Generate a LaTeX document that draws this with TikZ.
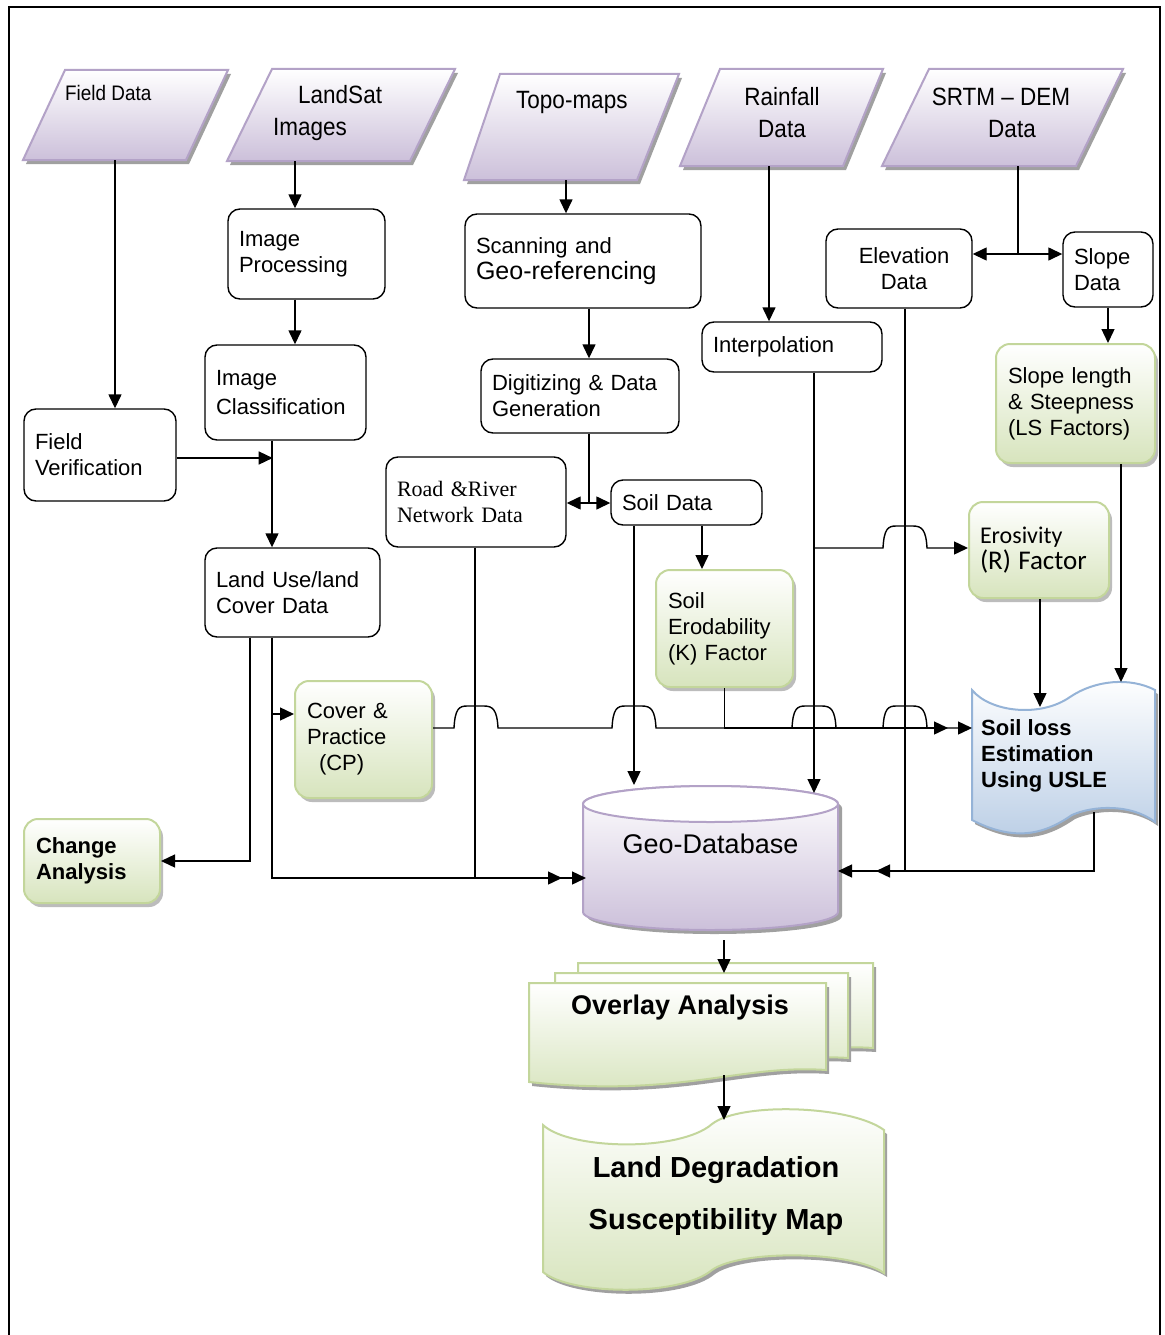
\documentclass[tikz,border=0pt]{standalone}
\usepackage{fontspec}
\setmainfont{Liberation Sans}
\newfontfamily\narrowsans[FakeStretch=0.9]{Liberation Sans}
\newfontfamily\timesfam{Liberation Serif}
\newfontfamily\calfam{Carlito}
\usetikzlibrary{arrows.meta,shadows}
\definecolor{pfill}{HTML}{CCC0DA}
\definecolor{pborder}{HTML}{B3A2C7}
\definecolor{gfill}{HTML}{D7E4BD}
\definecolor{gborder}{HTML}{C3D69B}
\definecolor{bfill}{HTML}{B9CDE5}
\definecolor{bborder}{HTML}{95B3D7}
\definecolor{shadowgray}{HTML}{A0A0A0}
\newcommand{\myfs}[2]{\fontsize{#1pt}{#2pt}\selectfont}
\newcommand{\mypara}[6]{%
  \fill[shadowgray,shift={(3,4)}] (#1,#3) -- (#2,#3) -- (#4,#6) -- (#5,#6) -- cycle;
  \path[pgramstyle] (#1,#3) -- (#2,#3) -- (#4,#6) -- (#5,#6) -- cycle;}
\tikzset{
  wbox/.style={draw, line width=1.4pt, rounded corners=12pt, fill=white, align=left,
    inner xsep=11pt, inner ysep=0pt, font=\myfs{22}{26}},
  gbox/.style={draw=gborder, line width=2pt, rounded corners=14pt, top color=white,
    bottom color=gfill, align=left, inner xsep=12pt, inner ysep=0pt, font=\myfs{22}{26},
    drop shadow={shadow xshift=3pt, shadow yshift=-4pt, fill=shadowgray, opacity=0.7}},
  pgramstyle/.style={draw=pborder, line width=2pt, top color=white, bottom color=pfill},
  paratext/.style={font=\narrowsans\myfs{25}{32}, inner sep=0pt, align=left},
  conn/.style={line width=1.4pt},
  arr/.style={conn, -{Triangle[length=14pt,width=13pt]}},
}
\begin{document}
\begin{tikzpicture}[x=1pt,y=-1pt]
\useasboundingbox (0,0) rectangle (1164,1335);
\fill[white] (0,0) rectangle (1164,1335);
\draw[line width=2pt] (9,1345) -- (9,7.5) -- (1160,7.5) -- (1160,1345);

% ---------- input parallelograms
\mypara{65}{228}{70}{186}{23}{160}
\mypara{272}{455}{69}{410}{227}{161}
\mypara{500}{679}{74}{637}{464}{180}
\mypara{720}{883}{69}{843}{680}{166}
\mypara{929}{1123}{69}{1076}{882}{166}
\node[paratext, anchor=west, font=\narrowsans\myfs{21}{25}] (fd) at (65,93) {Field Data};
\node[paratext, anchor=west] (lsat) at (273,113) {\hspace*{25pt}LandSat\\Images};
\node[paratext, anchor=west] (topo) at (516,102) {Topo-maps};
\node[paratext, align=center] (rain) at (782,113) {Rainfall\\Data};
\node[paratext, align=center] (srtm) at (1001,113) {SRTM – DEM\\\hspace*{22pt}Data};
\coordinate (fdB) at (115,160);
\coordinate (lsB) at (295,161);
\coordinate (tpB) at (566,180);
\coordinate (rnB) at (769,166);
\coordinate (srB) at (1018,166);

% ---------- white boxes
\node[wbox, text width=135pt, minimum height=90pt] (ip) at (306.5,254) {Image\\Processing};
\node[wbox, text width=139pt, minimum height=95pt] (ic) at (285.5,392.5) {Image\\[3pt]Classification};
\node[wbox, text width=130pt, minimum height=92pt] (fv) at (100,455) {Field\\Verification};
\node[wbox, text width=153pt, minimum height=89pt] (lu) at (292.5,592.5) {Land Use/land\\Cover Data};
\node[wbox, text width=214pt, minimum height=94pt] (sg) at (583,261) {Scanning and\\{\myfs{25}{28}Geo-referencing}};
\node[wbox, text width=176pt, minimum height=74pt] (dg) at (580,396) {Digitizing \& Data\\Generation};
\node[wbox, text width=158pt, minimum height=90pt, font=\timesfam\myfs{22}{26}] (rr) at (476,502) {Road \&River\\Network Data};
\node[wbox, text width=129pt, minimum height=45pt] (sd) at (686.5,502.5) {Soil Data};
\node[wbox, text width=158pt, minimum height=50pt] (itp) at (792,347) {Interpolation};
\node[wbox, text width=124pt, minimum height=79pt, align=center] (el) at (899,268.5) {\hspace*{10pt}Elevation\\\hspace*{10pt}Data};
\node[wbox, text width=68pt, minimum height=75pt] (sl) at (1108,269.5) {Slope\\Data};

% ---------- green boxes
\node[gbox, text width=135pt, minimum height=119pt] (ls) at (1075.5,403.5) {Slope length\\\& Steepness\\(LS Factors)};
\node[gbox, text width=118pt, minimum height=96pt, inner xsep=11pt] (er) at (1039,550) {\calfam\myfs{24}{31}Erosivity\\{\calfam\myfs{27}{31}(R) Factor}};
\node[gbox, text width=113pt, minimum height=117pt] (ke) at (724.5,628.5) {Soil\\Erodability\\(K) Factor};
\node[gbox, text width=113pt, minimum height=117pt] (cp) at (363.5,739.5) {Cover \&\\Practice\\\hspace*{12pt}(CP)};
\node[gbox, text width=112pt, minimum height=84pt, font=\bfseries\myfs{22}{26}] (ca) at (92,861) {Change\\Analysis};

% ---------- Soil loss document (blue)
\fill[shadowgray, shift={(3,4)}] (972,690) .. controls (990,712) and (1040,718) .. (1070,697) .. controls (1095,680) and (1130,677) .. (1155,690) -- (1155,822) .. controls (1130,803) and (1092,806) .. (1072,815) .. controls (1050,830) and (1020,845) .. (972,820) -- cycle;
\draw[bborder, line width=2pt, top color=white, bottom color=bfill] (972,690) .. controls (990,712) and (1040,718) .. (1070,697) .. controls (1095,680) and (1130,677) .. (1155,690) -- (1155,822) .. controls (1130,803) and (1092,806) .. (1072,815) .. controls (1050,830) and (1020,845) .. (972,820) -- cycle;
\node[anchor=west, align=left, inner sep=0pt, font=\bfseries\myfs{22}{26}] (usle) at (981,756) {Soil loss\\Estimation\\Using USLE};

% ---------- Geo-Database cylinder
\fill[shadowgray, shift={(4,4)}] (583,804) -- (583,912) arc[start angle=180, end angle=0, x radius=127.5, y radius=18] -- (838,804) arc[start angle=0, end angle=-180, x radius=127.5, y radius=18] -- cycle;
\draw[pborder, line width=2pt, top color=white, bottom color=pfill] (583,804) -- (583,912) arc[start angle=180, end angle=0, x radius=127.5, y radius=18] -- (838,804) arc[start angle=0, end angle=-180, x radius=127.5, y radius=18] -- cycle;
\draw[pborder, line width=2pt, fill=white] (710.5,804) ellipse[x radius=127.5, y radius=18];
\node[font=\myfs{27}{32}] (db) at (710.5,844) {Geo-Database};

% ---------- Overlay Analysis (multi-document)
\fill[shadowgray, shift={(3,4)}] (578,963) -- (873,963) -- (873,1048) .. controls (787,1042) and (727,1076) .. (578,1060) -- cycle;
\draw[gborder, line width=2pt, top color=white, bottom color=gfill] (578,963) -- (873,963) -- (873,1048) .. controls (787,1042) and (727,1076) .. (578,1060) -- cycle;
\fill[shadowgray, shift={(3,4)}] (555,973) -- (848,973) -- (848,1058) .. controls (762,1052) and (702,1086) .. (555,1070) -- cycle;
\draw[gborder, line width=2pt, top color=white, bottom color=gfill] (555,973) -- (848,973) -- (848,1058) .. controls (762,1052) and (702,1086) .. (555,1070) -- cycle;
\fill[shadowgray, shift={(3,4)}] (529,983) -- (826,983) -- (826,1070) .. controls (740,1064) and (680,1098) .. (529,1082) -- cycle;
\draw[gborder, line width=2pt, top color=white, bottom color=gfill] (529,983) -- (826,983) -- (826,1070) .. controls (740,1064) and (680,1098) .. (529,1082) -- cycle;
\node[font=\bfseries\myfs{27}{32}] (ov) at (680,1008) {Overlay Analysis};

% ---------- Land Degradation document
\fill[shadowgray, shift={(3,4)}] (543,1125) .. controls (570,1150) and (680,1152) .. (712,1124) .. controls (740,1102) and (850,1105) .. (884,1130) -- (884,1273) .. controls (850,1250) and (740,1250) .. (712,1270) .. controls (680,1297) and (570,1295) .. (543,1272) -- cycle;
\draw[gborder, line width=2pt, top color=white, bottom color=gfill] (543,1125) .. controls (570,1150) and (680,1152) .. (712,1124) .. controls (740,1102) and (850,1105) .. (884,1130) -- (884,1273) .. controls (850,1250) and (740,1250) .. (712,1270) .. controls (680,1297) and (570,1295) .. (543,1272) -- cycle;
\node[font=\bfseries\myfs{29}{52}, align=center] (ld) at (716,1196) {Land Degradation\\Susceptibility Map};

% ---------- connection points on drawn shapes
\coordinate (dbT1) at (814,793);
\coordinate (dbT2) at (634,785);
\coordinate (dbL1) at (586,878);
\coordinate (dbL2) at (562,878);
\coordinate (dbR1) at (838,871);
\coordinate (dbR2) at (876,871);
\coordinate (dbB) at (724,940);
\coordinate (ovT) at (724,973);
\coordinate (ovB) at (724,1075);
\coordinate (ldT) at (724,1120);
\coordinate (slT1) at (1040,707);
\coordinate (slT2) at (1121,682);
\coordinate (slL1) at (972,728);
\coordinate (slL2) at (948,728);
\coordinate (slB) at (1094,812);
\coordinate (dgj) at (589,503);
\coordinate (srj) at (1018,254);
\coordinate (ij) at (814,548);
\coordinate (elj) at (905,871);
\coordinate (luj) at (272,714);

% ---------- connectors
\draw[arr] (fdB) -- ([xshift=15pt]fv.north);
\draw[arr] (lsB) -- ([xshift=-11.5pt]ip.north);
\draw[arr] ([xshift=-11.5pt]ip.south) -- ([xshift=9.5pt]ic.north);
\draw[arr] ([xshift=-13.5pt]ic.south) -- ([xshift=-20.5pt]lu.north);
\draw[arr] ([yshift=-3pt]fv.east) -- +(96,0);
\draw[arr] (tpB) -- ([xshift=-17pt]sg.north);
\draw[arr] ([xshift=6pt]sg.south) -- ([xshift=9pt]dg.north);
\draw[conn] ([xshift=9pt]dg.south) -- (dgj);
\draw[arr] (dgj) -- (dgj -| rr.east);
\draw[arr] (dgj) -- (dgj -| sd.west);
\draw[arr] (rnB) -- ([xshift=-23pt]itp.north);
\draw[conn] (srB) -- (srj);
\draw[arr] (srj) -- (srj -| el.east);
\draw[arr] (srj) -- (srj -| sl.west);
\draw[arr] (sl.south) -- (sl.south |- ls.north);
\draw[arr] (itp.south -| dbT1) -- (dbT1);
\draw[arr] (ij) -- (883,548) .. controls (884,529) and (888,526) .. (896,526) -- (913,526) .. controls (922,526) and (926,530) .. (927,548) -- (ij -| er.west);
\draw[arr] ([xshift=6pt]el.south) -- (elj) -- (dbR2);
\draw[arr] (slB) -- (slB |- dbR1) -- (dbR1);
\draw[arr] (ls.south -| slT2) -- (slT2);
\draw[arr] (er.south -| slT1) -- (slT1);
\draw[arr] (sd.south -| dbT2) -- (dbT2);
\draw[arr] ([xshift=15.5pt]sd.south) -- ([xshift=-22.5pt]ke.north);
\draw[arr] (ke.south) -- (ke.south |- slL2) -- (slL2);
\draw[arr] ([yshift=11.5pt]cp.east) -- (454,728) .. controls (455,709) and (459,706) .. (467,706) -- (484,706) .. controls (493,706) and (497,710) .. (498,728)
  -- (612,728) .. controls (613,709) and (617,706) .. (625,706) -- (642,706) .. controls (651,706) and (655,710) .. (656,728)
  -- (792,728) .. controls (793,709) and (797,706) .. (805,706) -- (822,706) .. controls (831,706) and (835,710) .. (836,728)
  -- (883,728) .. controls (884,709) and (888,706) .. (896,706) -- (913,706) .. controls (922,706) and (926,710) .. (927,728)
  -- (slL1);
\draw[arr] ([xshift=-42.5pt]lu.south) |- (ca.east);
\draw[arr] ([xshift=-20.5pt]lu.south) |- (dbL1);
\draw[arr] (luj) -- (luj -| cp.west);
\draw[arr] ([xshift=-1pt]rr.south) |- (dbL2);
\draw[arr] (dbB) -- (ovT);
\draw[arr] (ovB) -- (ldT);
\end{tikzpicture}
\end{document}
